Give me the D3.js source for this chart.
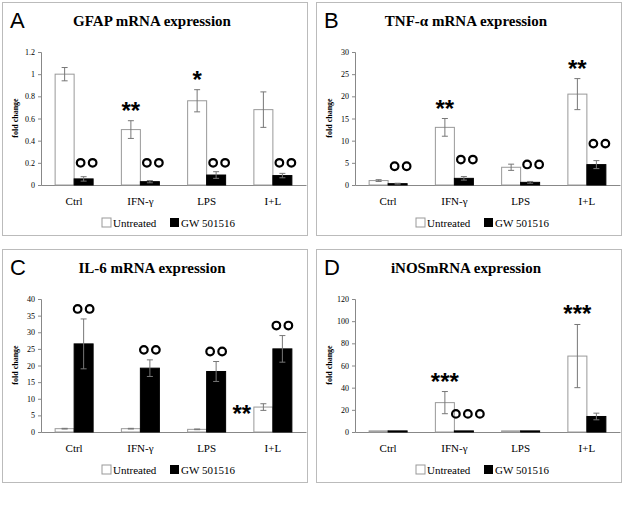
<!DOCTYPE html><html><head><meta charset="utf-8">
<script src="https://cdn.jsdelivr.net/npm/d3@7"></script>
<style>body{margin:0;background:#fff}</style></head><body><svg id="c" width="625" height="510"></svg>
<script>
const categories=["Ctrl","IFN-γ","LPS","I+L"];
const seriesNames=["Untreated","GW 501516"];
const A_untreated=[1,0.5,0.76,0.68], A_untreatedErr=[0.06,0.08,0.1,0.16];
const A_gw=[0.055,0.03,0.09,0.085], A_gwErr=[0.02,0.01,0.03,0.02];
const A_ticks=[0,0.2,0.4,0.6,0.8,1,1.2];
const B_untreated=[1,13,4,20.5], B_untreatedErr=[0.2,2,0.7,3.5];
const B_gw=[0.3,1.5,0.6,4.6], B_gwErr=[0.1,0.4,0.2,0.9];
const B_ticks=[0,5,10,15,20,25,30];
const C_untreated=[1,1,0.8,7.5], C_untreatedErr=[0.1,0.1,0.1,1];
const C_gw=[26.5,19.2,18.2,25], C_gwErr=[7.5,2.5,3,4];
const C_ticks=[0,5,10,15,20,25,30,35,40];
const D_untreated=[1,26.5,1,68.5], D_untreatedErr=[0,10,0,28.5];
const D_gw=[1,1,1,14], D_gwErr=[0,0,0,3];
const D_ticks=[0,20,40,60,80,100,120];

const panels=[
 {L:"A",title:"GFAP mRNA expression",x0:2,y0:2,u:A_untreated,ue:A_untreatedErr,g:A_gw,ge:A_gwErr,ticks:A_ticks,fmt:d=>String(d),
  stars:[["",0],["**",0],["*",0],["",0]],circ:[2,2,2,2],cpos:"side"},
 {L:"B",title:"TNF-α mRNA expression",x0:316,y0:2,u:B_untreated,ue:B_untreatedErr,g:B_gw,ge:B_gwErr,ticks:B_ticks,fmt:d=>String(d),
  stars:[["",0],["**",0],["",0],["**",0]],circ:[2,2,2,2],cpos:"side"},
 {L:"C",title:"IL-6 mRNA expression",x0:2,y0:249,u:C_untreated,ue:C_untreatedErr,g:C_gw,ge:C_gwErr,ticks:C_ticks,fmt:d=>String(d),
  stars:[["",0],["",0],["",0],["**",1]],circ:[2,2,2,2],cpos:"top"},
 {L:"D",title:"iNOSmRNA expression",x0:316,y0:249,u:D_untreated,ue:D_untreatedErr,g:D_gw,ge:D_gwErr,ticks:D_ticks,fmt:d=>String(d),
  stars:[["",0],["***",0],["",0],["***",0]],circ:[0,3,0,0],cpos:"side"}
];
const svg=d3.select("#c");
panels.forEach(p=>{
 const g=svg.append("g").attr("transform",`translate(${p.x0},${p.y0})`);
 g.append("rect").attr("x",0.5).attr("y",0.5).attr("width",305).attr("height",233).attr("fill","none").attr("stroke","#bbb");
 g.append("text").attr("x",8).attr("y",26).attr("font-family","Liberation Sans").attr("font-size",22).text(p.L);
 g.append("text").attr("x",150).attr("y",24).attr("text-anchor","middle").attr("font-family","Liberation Serif").attr("font-weight","bold").attr("font-size",15).text(p.title);
 const top=p.ticks[p.ticks.length-1];
 const y=d3.scaleLinear().domain([0,top]).range([183,50]);
 const x=d3.scaleBand().domain(categories).range([39,304]);
 const ax=g.append("g").attr("transform","translate(39,0)").call(d3.axisLeft(y).tickValues(p.ticks).tickSize(3).tickFormat(p.fmt));
 ax.selectAll("text").attr("font-family","Liberation Serif").attr("font-size",8).attr("fill","#000");
 ax.selectAll("line,path").attr("stroke","#888");
 const xa=g.append("g").attr("transform","translate(0,183)").call(d3.axisBottom(x).tickSize(0).tickPadding(12));
 xa.selectAll("text").attr("font-family","Liberation Serif").attr("font-size",11).attr("fill","#000");
 xa.select("path").attr("stroke","#888");
 g.append("text").attr("transform","translate(16,116) rotate(-90)").attr("text-anchor","middle").attr("font-family","Liberation Serif").attr("font-size",8).attr("font-weight","bold").text("fold change");
 const bw=19;
 categories.forEach((c,i)=>{
  const cx=x(c)+x.bandwidth()/2;
  [[p.u,p.ue,"#fff",cx-bw],[p.g,p.ge,"#000",cx]].forEach(([v,e,f,bx])=>{
   g.append("rect").attr("x",bx).attr("y",y(v[i])).attr("width",bw).attr("height",y(0)-y(v[i])).attr("fill",f).attr("stroke",f=="#fff"?"#999":"#000");
   if(e[i]>0){const m=bx+bw/2;
    g.append("path").attr("d",`M${m},${y(v[i]+e[i])}V${y(v[i]-e[i])}M${m-3},${y(v[i]+e[i])}h6M${m-3},${y(v[i]-e[i])}h6`).attr("stroke","#777").attr("fill","none");}
  });
  const s=p.stars[i];
  if(s[0]){
   const sx=s[1]?cx-bw-12:cx-bw/2, sy=s[1]?y(p.u[i]+p.ue[i])+10:y(p.u[i]+p.ue[i])-10;
   g.append("text").attr("x",sx).attr("y",sy+8).attr("text-anchor","middle").attr("font-family","Liberation Sans").attr("font-weight","bold").attr("font-size",24).text(s[0]);
  }
  const n=p.circ[i];
  if(n){
   let ccx,ccy;
   if(p.cpos=="top"){ccx=cx+bw/2; ccy=y(p.g[i]+p.ge[i])-10;}
   else{ccx=cx+bw/2+(n==3?4:3); ccy=y(p.g[i]+p.ge[i])-17; if(p.L=="A") ccy=y(0.2);}
   for(let k=0;k<n;k++){
    g.append("circle").attr("cx",ccx+(k-(n-1)/2)*12).attr("cy",ccy).attr("r",3.8).attr("fill","none").attr("stroke","#000").attr("stroke-width",2.2);
   }
  }
 });
 const lg=g.append("g").attr("transform","translate(100,224)");
 lg.append("rect").attr("x",0).attr("y",-8).attr("width",9).attr("height",9).attr("fill","#fff").attr("stroke","#999");
 lg.append("text").attr("x",11).attr("y",1).attr("font-family","Liberation Serif").attr("font-size",11).text(seriesNames[0]);
 lg.append("rect").attr("x",68).attr("y",-8).attr("width",9).attr("height",9).attr("fill","#000");
 lg.append("text").attr("x",79).attr("y",1).attr("font-family","Liberation Serif").attr("font-size",11).text(seriesNames[1]);
});
</script></body></html>
